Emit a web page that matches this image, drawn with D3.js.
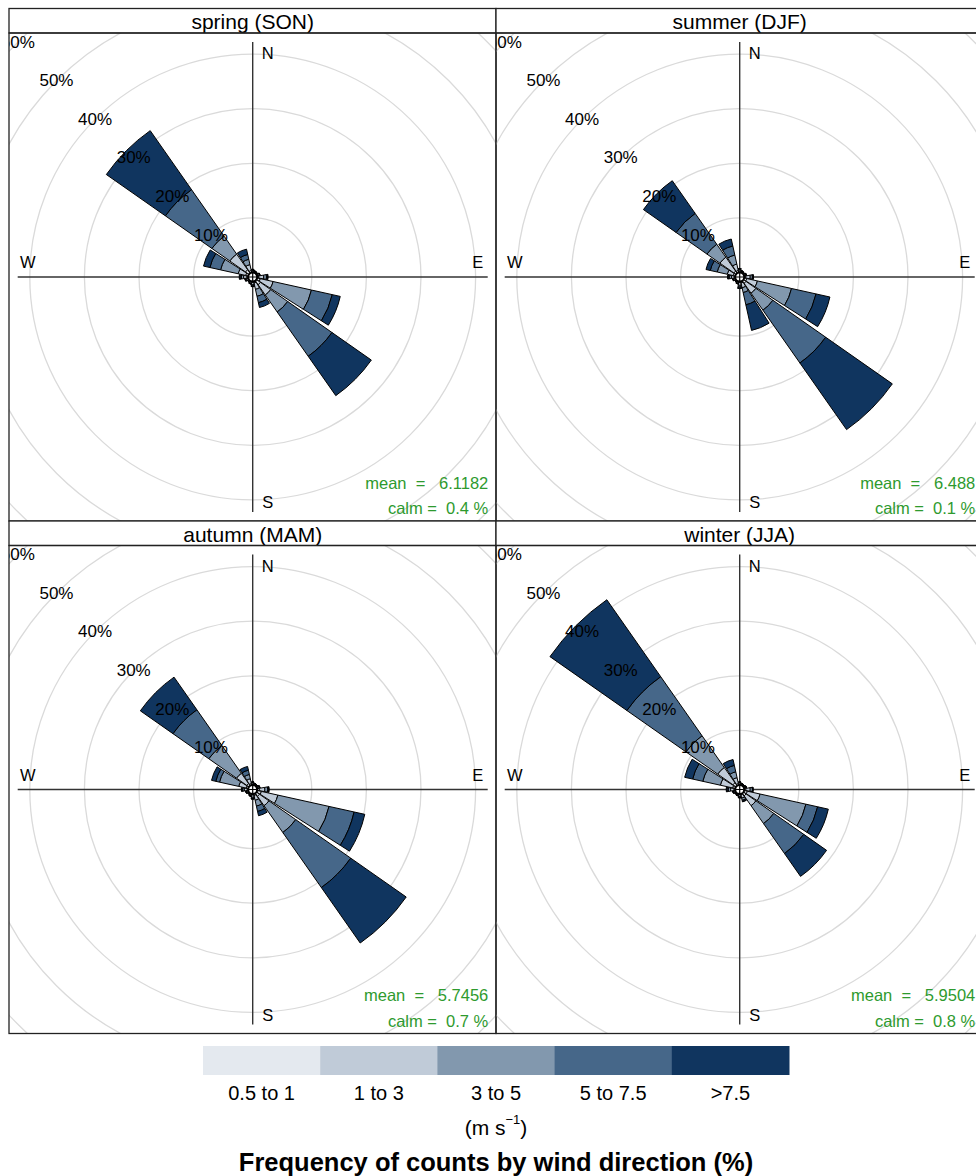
<!DOCTYPE html>
<html>
<head>
<meta charset="utf-8">
<script src="https://cdn.jsdelivr.net/npm/d3@7"></script>
<style>
  body { margin: 0; background: #fff; }
  text { font-family: "Liberation Sans", Arial, Helvetica, sans-serif; }
</style>
</head>
<body>
<svg id="chart" width="976" height="1176"></svg>
<script>
// ---- data -------------------------------------------------------------
const seasons = ["spring (SON)", "summer (DJF)", "autumn (MAM)", "winter (JJA)"];
// 16 sectors, compass bearing in degrees: N, NNE, NE, ... NNW
const directions = d3.range(16).map(i => i * 22.5);
const speedBins = ["0.5 to 1", "1 to 3", "3 to 5", "5 to 7.5", ">7.5"];
const binColors = ["#e4e9ef", "#c0cbd8", "#8298ae", "#466789", "#10355f"];
const ringTicks = [10, 20, 30, 40, 50, 60];

// frequency (%) per sector, split by speed bin
const springFreq = [
  [0.15, 0.25, 0.10, 0.05, 0.05],  // N
  [0.10, 0.15, 0.05, 0.03, 0.02],  // NNE
  [0.10, 0.12, 0.05, 0.02, 0.01],  // NE
  [0.15, 0.25, 0.10, 0.05, 0.02],  // ENE
  [0.30, 0.90, 0.50, 0.20, 0.10],  // E
  [0.60, 2.40, 7.20, 3.90, 1.50],  // ESE
  [0.90, 2.30, 3.80, 9.90, 8.80],  // SE
  [0.30, 1.20, 1.30, 1.20, 0.90],  // SSE
  [0.20, 0.40, 0.20, 0.10, 0.05],  // S
  [0.15, 0.20, 0.10, 0.05, 0.02],  // SSW
  [0.10, 0.15, 0.05, 0.02, 0.01],  // SW
  [0.15, 0.25, 0.15, 0.08, 0.04],  // WSW
  [0.25, 0.60, 0.40, 0.25, 0.15],  // W
  [0.50, 1.40, 3.30, 2.00, 1.20],  // WNW
  [0.80, 3.50, 4.00, 10.40, 13.20],// NW
  [0.40, 1.10, 1.00, 0.90, 1.00]   // NNW
];
const summerFreq = [
  [0.15, 0.30, 0.15, 0.10, 0.05],
  [0.10, 0.15, 0.08, 0.04, 0.02],
  [0.10, 0.12, 0.05, 0.02, 0.01],
  [0.12, 0.20, 0.10, 0.04, 0.02],
  [0.30, 0.80, 0.40, 0.15, 0.05],
  [0.50, 2.00, 6.40, 4.60, 2.60],
  [0.60, 2.20, 3.80, 11.80, 14.90],
  [0.30, 0.90, 0.90, 2.30, 4.80],
  [0.20, 0.50, 0.30, 0.20, 0.10],
  [0.12, 0.20, 0.10, 0.05, 0.03],
  [0.10, 0.12, 0.05, 0.02, 0.01],
  [0.12, 0.20, 0.12, 0.06, 0.03],
  [0.20, 0.50, 0.40, 0.20, 0.10],
  [0.40, 1.10, 1.90, 1.30, 0.80],
  [0.50, 3.10, 2.90, 6.90, 7.30],
  [0.40, 1.20, 1.70, 1.70, 1.30]
];
const autumnFreq = [
  [0.15, 0.25, 0.10, 0.05, 0.03],
  [0.10, 0.15, 0.05, 0.03, 0.02],
  [0.10, 0.12, 0.05, 0.02, 0.01],
  [0.15, 0.25, 0.10, 0.04, 0.02],
  [0.40, 1.00, 0.50, 0.20, 0.10],
  [0.80, 3.10, 9.60, 4.70, 2.00],
  [0.70, 2.10, 6.00, 12.30, 12.40],
  [0.30, 0.90, 1.10, 1.00, 0.80],
  [0.20, 0.40, 0.20, 0.10, 0.05],
  [0.12, 0.20, 0.10, 0.05, 0.02],
  [0.10, 0.12, 0.05, 0.02, 0.01],
  [0.12, 0.20, 0.12, 0.06, 0.03],
  [0.20, 0.50, 0.30, 0.15, 0.10],
  [0.40, 1.40, 3.60, 0.70, 0.80],
  [0.50, 2.30, 6.20, 8.00, 7.30],
  [0.30, 0.90, 0.80, 0.80, 0.70]
];
const winterFreq = [
  [0.15, 0.25, 0.10, 0.05, 0.03],
  [0.10, 0.15, 0.05, 0.03, 0.02],
  [0.10, 0.12, 0.05, 0.02, 0.01],
  [0.12, 0.20, 0.10, 0.04, 0.02],
  [0.30, 0.80, 0.40, 0.10, 0.05],
  [0.60, 2.40, 8.60, 2.20, 2.00],
  [0.60, 2.20, 4.00, 6.70, 5.10],
  [0.20, 0.60, 0.40, 0.20, 0.10],
  [0.15, 0.30, 0.15, 0.08, 0.04],
  [0.10, 0.15, 0.08, 0.04, 0.02],
  [0.10, 0.12, 0.05, 0.02, 0.01],
  [0.12, 0.20, 0.12, 0.06, 0.03],
  [0.25, 0.60, 0.40, 0.25, 0.15],
  [0.50, 2.30, 3.30, 1.90, 1.50],
  [0.70, 3.40, 7.10, 13.20, 17.20],
  [0.30, 1.10, 1.10, 1.20, 1.10]
];
const seasonFreq = [springFreq, summerFreq, autumnFreq, winterFreq];
const meanSpeed = ["6.1182", "6.488", "5.7456", "5.9504"];
const calmPct = ["0.4", "0.1", "0.7", "0.8"];

// ---- layout ------------------------------------------------------------
const svg = d3.select("#chart");
const panelW = 487, plotH = 488, stripH = 24.5;
const colX = [9, 496];
const rowY = [8.5, 521];            // top of each strip
const halfWidth = 10;               // paddle half-width in degrees
const rad = d => d * Math.PI / 180;

const r = d3.scaleLinear().domain([0, 60]).range([4.5, 332.1]);
const arc = d3.arc();

seasons.forEach((name, i) => {
  const x0 = colX[i % 2];
  const top = rowY[Math.floor(i / 2)];
  const plotTop = top + stripH;
  const cx = x0 + 243.7;
  const cy = plotTop + 244;

  const clipId = "clip" + i;
  svg.append("clipPath").attr("id", clipId)
    .append("rect").attr("x", x0).attr("y", plotTop).attr("width", panelW).attr("height", plotH);

  const g = svg.append("g").attr("clip-path", `url(#${clipId})`);

  // grid rings
  g.selectAll("circle.ring").data(ringTicks).join("circle")
    .attr("class", "ring")
    .attr("cx", cx).attr("cy", cy).attr("r", d => r(d))
    .attr("fill", "none").attr("stroke", "#dadada").attr("stroke-width", 1.3);

  // compass cross
  g.append("line").attr("x1", cx).attr("x2", cx).attr("y1", cy - 235).attr("y2", cy + 235)
    .attr("stroke", "#333").attr("stroke-width", 1.4);
  g.append("line").attr("x1", cx - 235).attr("x2", cx + 235).attr("y1", cy).attr("y2", cy)
    .attr("stroke", "#333").attr("stroke-width", 1.4);

  // stacked paddles
  const freq = seasonFreq[i];
  const segs = [];
  directions.forEach((dir, k) => {
    let acc = 0;
    freq[k].forEach((v, b) => {
      segs.push({ dir, b, from: acc, to: acc + v });
      acc += v;
    });
  });
  g.append("g").attr("transform", `translate(${cx},${cy})`)
    .selectAll("path").data(segs).join("path")
    .attr("d", s => arc({
      innerRadius: r(s.from), outerRadius: r(s.to),
      startAngle: rad(s.dir - halfWidth), endAngle: rad(s.dir + halfWidth)
    }))
    .attr("fill", s => binColors[s.b])
    .attr("stroke", "#000").attr("stroke-width", 1).attr("stroke-linejoin", "round");

  // ring labels along the NW diagonal
  g.selectAll("text.ringlab").data(ringTicks).join("text")
    .attr("class", "ringlab")
    .attr("x", d => cx - r(d) * Math.SQRT1_2)
    .attr("y", d => cy - r(d) * Math.SQRT1_2)
    .attr("text-anchor", "middle").attr("dominant-baseline", "central")
    .attr("font-size", 17).attr("fill", "#000")
    .text(d => d + "%");

  // compass letters
  const compass = [
    { t: "N", x: cx + 15, y: cy - 224 },
    { t: "S", x: cx + 15, y: cy + 225 },
    { t: "W", x: cx - 225, y: cy - 15 },
    { t: "E", x: cx + 225, y: cy - 15 }
  ];
  g.selectAll("text.compass").data(compass).join("text")
    .attr("class", "compass")
    .attr("x", d => d.x).attr("y", d => d.y)
    .attr("text-anchor", "middle").attr("dominant-baseline", "central")
    .attr("font-size", 16.5).attr("fill", "#000")
    .text(d => d.t);

  // centre marker
  g.append("circle").attr("cx", cx).attr("cy", cy).attr("r", 4.5)
    .attr("fill", "#fff").attr("stroke", "#000").attr("stroke-width", 2);
  g.append("path").attr("d", `M${cx - 4},${cy}H${cx + 4}M${cx},${cy - 4}V${cy + 4}`)
    .attr("stroke", "#000").attr("stroke-width", 1.2);

  // mean / calm annotation
  const tx = x0 + panelW - 7.7;
  g.append("text").attr("x", tx).attr("y", cy + 205.5)
    .attr("text-anchor", "end").attr("dominant-baseline", "central")
    .attr("font-size", 16.5).attr("fill", "#2e9a2e").style("white-space", "pre")
    .text("mean  =   " + meanSpeed[i]);
  g.append("text").attr("x", tx).attr("y", cy + 231)
    .attr("text-anchor", "end").attr("dominant-baseline", "central")
    .attr("font-size", 16.5).attr("fill", "#2e9a2e").style("white-space", "pre")
    .text("calm =  " + calmPct[i] + " %");

  // strip + frame
  svg.append("rect").attr("x", x0).attr("y", top).attr("width", panelW).attr("height", stripH)
    .attr("fill", "#fff").attr("stroke", "#222").attr("stroke-width", 1.3);
  svg.append("text").attr("x", cx).attr("y", top + stripH / 2 + 1)
    .attr("text-anchor", "middle").attr("dominant-baseline", "central")
    .attr("font-size", 21).attr("fill", "#000")
    .text(name);
  svg.append("rect").attr("x", x0).attr("y", plotTop).attr("width", panelW).attr("height", plotH)
    .attr("fill", "none").attr("stroke", "#222").attr("stroke-width", 1.3);
});

// ---- legend ------------------------------------------------------------
const legX = d3.scaleBand().domain(speedBins).range([203, 789]);
const leg = svg.append("g");
leg.selectAll("rect").data(speedBins).join("rect")
  .attr("x", d => legX(d)).attr("y", 1046)
  .attr("width", legX.bandwidth() + 0.5).attr("height", 29)
  .attr("fill", (d, k) => binColors[k]);
leg.selectAll("text.bin").data(speedBins).join("text")
  .attr("class", "bin")
  .attr("x", d => legX(d) + legX.bandwidth() / 2).attr("y", 1093)
  .attr("text-anchor", "middle").attr("dominant-baseline", "central")
  .attr("font-size", 20).attr("fill", "#000")
  .text(d => d);

const unit = leg.append("text").attr("x", 496).attr("y", 1127)
  .attr("text-anchor", "middle").attr("dominant-baseline", "central")
  .attr("font-size", 21).attr("fill", "#000");
unit.append("tspan").text("(m s");
unit.append("tspan").attr("dy", -8).attr("font-size", 13).text("\u22121");
unit.append("tspan").attr("dy", 8).text(")");

leg.append("text").attr("x", 496).attr("y", 1162)
  .attr("text-anchor", "middle").attr("dominant-baseline", "central")
  .attr("font-size", 25.5).attr("font-weight", "bold").attr("fill", "#000")
  .text("Frequency of counts by wind direction (%)");
</script>
</body>
</html>
